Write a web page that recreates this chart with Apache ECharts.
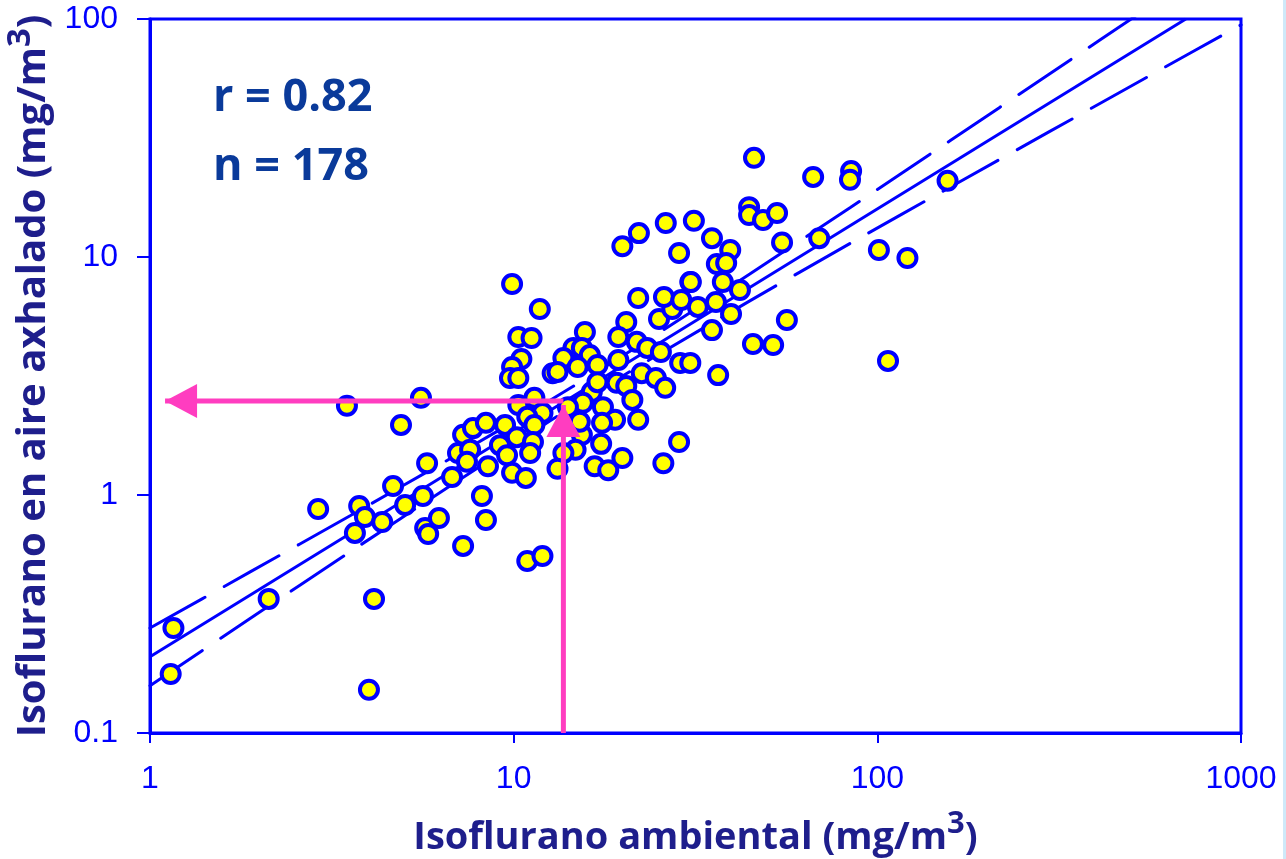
<!DOCTYPE html>
<html><head><meta charset="utf-8">
<script src="https://cdn.jsdelivr.net/npm/echarts@6/dist/echarts.min.js"></script>
<style>html,body{margin:0;padding:0;background:#fff}#c{width:1286px;height:859px}</style>
</head><body><div id="c"></div>
<script>
// ---- data ----
const ambient = [1.16,1.14,2.12,2.90,3.48,3.66,3.76,3.90,4.35,4.13,4.00,4.66,4.90,5.03,5.56,5.63,5.78,5.71,5.82,6.23,
  6.77,7.26,7.26,7.03,7.59,7.44,7.73,8.39,8.50,8.18,8.39,9.90,11.8,10.3,11.2,10.5,9.90,9.77,10.3,10.3,
  11.4,12.0,9.47,10.9,11.4,9.17,10.2,11.3,9.59,11.1,9.90,10.8,12.8,15.7,20.4,25.1,27.3,19.4,21.8,23.3,
  25.4,14.6,15.4,16.2,17.0,13.7,13.2,15.0,19.4,22.5,24.6,26.1,28.7,30.6,19.2,20.4,16.4,17.0,21.2,17.6,
  15.5,19.0,22.0,17.5,15.4,17.4,14.8,13.7,13.2,16.7,18.2,19.9,25.8,28.5,14.1,22.0,25.9,28.9,30.6,32.1,
  36.0,36.2,37.6,35.1,39.6,36.5,19.9,22.1,26.2,31.3,28.5,35.1,39.4,38.4,41.9,30.7,15.2,45.8,66.6,84.7,
  84.1,44.4,44.4,48.5,53.0,54.7,69.2,56.4,45.5,51.7,101,121,107,156,10.9,12.0];
const exhaled = [0.276,0.177,0.366,0.873,2.37,0.693,0.899,0.808,0.770,0.366,0.152,1.09,1.97,0.908,2.56,0.990,1.36,0.727,0.686,0.800,
  1.19,0.611,1.79,1.50,1.55,1.38,1.91,2.01,1.32,0.990,0.785,7.70,6.05,4.61,4.57,3.73,3.45,3.10,3.10,2.39,
  2.56,2.21,1.97,2.13,1.97,1.62,1.75,1.67,1.47,1.50,1.24,1.18,3.25,4.84,5.33,5.49,6.05,4.61,4.40,4.15,
  3.99,4.15,4.15,3.87,3.52,3.76,3.29,3.45,3.69,3.25,3.10,2.82,3.59,3.59,2.96,2.87,2.71,2.98,2.51,2.34,
  2.44,2.07,2.07,2.01,1.79,1.64,1.55,1.50,1.29,1.32,1.27,1.43,1.36,1.67,2.34,6.73,6.79,6.60,7.85,6.17,
  6.47,9.35,7.85,4.93,5.76,3.19,11.1,12.6,13.9,14.2,10.4,12.0,10.7,9.44,7.27,7.85,2.03,26.1,21.7,23.0,
  21.1,16.2,15.0,14.3,15.3,11.5,12.0,5.44,4.31,4.27,10.7,9.90,3.66,20.9,0.528,0.554];
const fitX = [1, 705];
const fitY = [0.209, 100];
const bandX  = [1, 1.88, 3.55, 6.68, 12.6, 17.3, 23.7, 44.6, 84.1, 158, 298, 562, 1000];
const upperY = [0.276, 0.474, 0.818, 1.42, 2.50, 3.36, 4.54, 8.49, 16.1, 30.7, 58.9, 113, 204];
const lowerY = [0.158, 0.302, 0.577, 1.09, 2.05, 2.77, 3.71, 6.54, 11.4, 19.6, 33.7, 57.9, 94.5];
const readAmbient = 13.7;     // vertical arrow
const readExhaled = 2.48;     // horizontal arrow
const arrowTipY = 2.39;
const arrowTipX = 1.10;
const xTickValues = [1, 10, 100, 1000];
const yTickValues = [0.1, 1, 10, 100];
const statLines = ['r = 0.82', 'n = 178'];
const xTitle = '{t|Isoflurano ambiental (mg/m}{sup|3}{t|)}';
const yTitle = '{t|Isoflurano en aire axhalado (mg/m}{sup|3}{t|)}';

// ---- chart ----
const BLUE = '#0000ff', NAVY = '#1e1e8c', PINK = '#ff3dc0';
const zip = (a, b) => a.map((v, i) => [v, b[i]]);
const titleFont = {fontFamily: 'Open Sans', fontWeight: 'bold', color: NAVY};
const tickFont = '"Liberation Sans Narrow", "Liberation Sans", sans-serif';
const titleRich = (size, supSize) => ({
  t: Object.assign({fontSize: size, lineHeight: size + 10, verticalAlign: 'bottom'}, titleFont),
  sup: Object.assign({fontSize: supSize, lineHeight: size + 10, verticalAlign: 'top'}, titleFont)
});

const chart = echarts.init(document.getElementById('c'), null, {renderer: 'canvas'});
chart.setOption({
  animation: false,
  backgroundColor: '#ffffff',
  grid: {left: 150, top: 19, right: 45, bottom: 126, containLabel: false, outerBoundsMode: 'none',
    show: true, borderColor: BLUE, borderWidth: 3},
  xAxis: {
    type: 'log', logBase: 10, min: xTickValues[0], max: xTickValues[xTickValues.length - 1],
    name: xTitle, nameLocation: 'middle', nameGap: 76,
    nameTextStyle: Object.assign({fontSize: 38, rich: titleRich(38, 31)}, titleFont),
    axisLine: {lineStyle: {color: BLUE, width: 3}},
    axisTick: {show: true, length: 10, lineStyle: {color: BLUE, width: 2}},
    minorTick: {show: false},
    splitLine: {show: false},
    axisLabel: {color: BLUE, fontFamily: tickFont, fontSize: 32, margin: 30,
      formatter: v => String(v)}
  },
  yAxis: {
    type: 'log', logBase: 10, min: yTickValues[0], max: yTickValues[yTickValues.length - 1],
    name: yTitle, nameLocation: 'middle', nameGap: 68, nameRotate: 90,
    nameTextStyle: Object.assign({fontSize: 40, rich: titleRich(40, 33)}, titleFont),
    axisLine: {lineStyle: {color: BLUE, width: 3}},
    axisTick: {show: true, length: 13, lineStyle: {color: BLUE, width: 2}},
    splitLine: {show: false},
    axisLabel: {color: BLUE, fontFamily: tickFont, fontSize: 32, margin: 32,
      formatter: v => String(v)}
  },
  graphic: [
    {type: 'text', left: 213, top: 76, z: 20,
      style: {text: statLines[0], font: 'bold 45px "Open Sans"', fill: '#0a3a9a'}},
    {type: 'text', left: 213, top: 145, z: 20,
      style: {text: statLines[1], font: 'bold 45px "Open Sans"', fill: '#0a3a9a'}},
    {type: 'rect', right: 0, top: 0, z: 20, shape: {width: 3, height: 859}, style: {fill: '#cfe9f9'}}
  ],
  series: [
    {type: 'line', data: zip(bandX, upperY), showSymbol: false, silent: true, smooth: 0.2, clip: true,
      lineStyle: {color: BLUE, width: 3, type: [63, 22], cap: 'round'}, z: 2},
    {type: 'line', data: zip(bandX, lowerY), showSymbol: false, silent: true, smooth: 0.2, clip: true,
      lineStyle: {color: BLUE, width: 3, type: [63, 22], cap: 'round'}, z: 2},
    {type: 'line', data: zip(fitX, fitY), showSymbol: false, silent: true, clip: true,
      lineStyle: {color: BLUE, width: 3}, z: 2},
    {type: 'scatter', data: zip(ambient, exhaled), symbol: 'circle', symbolSize: 18, silent: true,
      itemStyle: {color: '#ffff00', borderColor: BLUE, borderWidth: 4, opacity: 1}, z: 3},
    {type: 'line', silent: true, clip: false, z: 5,
      data: [{value: [readAmbient, yTickValues[0]], symbol: 'none'},
             {value: [readAmbient, arrowTipY], symbol: 'triangle', symbolSize: [34, 32], symbolOffset: [0, 16]}],
      lineStyle: {color: PINK, width: 5, cap: 'butt'}, itemStyle: {color: PINK, borderWidth: 0}},
    {type: 'line', silent: true, clip: false, z: 5,
      data: [{value: [readAmbient, readExhaled], symbol: 'none'},
             {value: [arrowTipX, readExhaled], symbol: 'triangle', symbolRotate: 90, symbolSize: [34, 32], symbolOffset: [16, 0]}],
      lineStyle: {color: PINK, width: 5, cap: 'butt'}, itemStyle: {color: PINK, borderWidth: 0}}
  ]
});
</script></body></html>
